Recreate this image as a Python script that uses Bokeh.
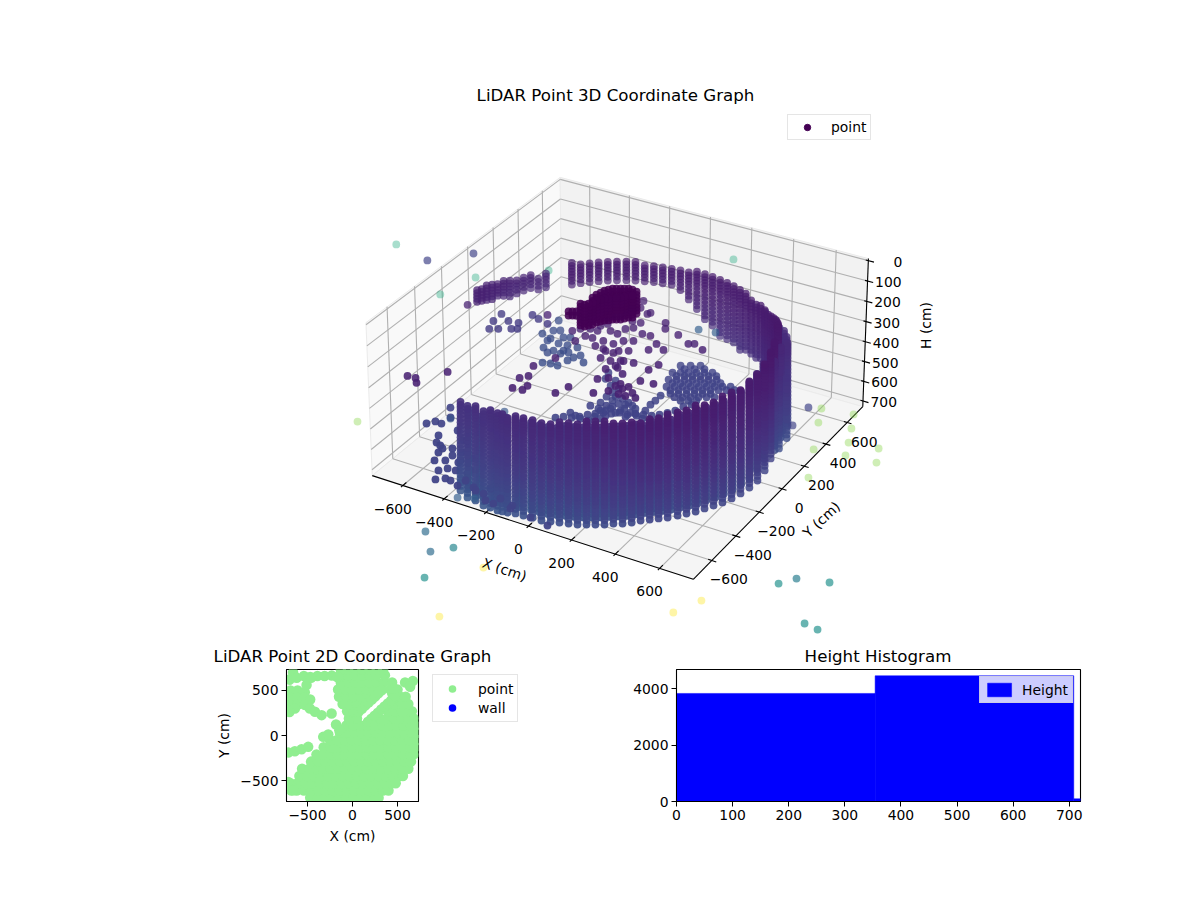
import numpy as np
from bokeh.plotting import figure
from bokeh.layouts import column, row
from bokeh.models import Legend, LegendItem, ColumnDataSource, FixedTicker, Range1d
from bokeh.palettes import Viridis256
from bokeh.transform import linear_cmap
from bokeh.core.properties import value
from bokeh.embed import file_html
from bokeh.resources import INLINE

# ------------------------------------------------ data (cm)
tick_xy = [-600, -400, -200, 0, 200, 400, 600]
tick_h = [0, 100, 200, 300, 400, 500, 600, 700]
height_tiers = [172, 186, 200, 214, 228, 242, 256, 270, 284, 298, 312, 328, 346, 364, 382, 400, 418,
                436, 454, 472, 490, 508, 526, 544, 562, 580, 598, 616, 634, 652, 670, 688, 710]

front_x = [-373, -320, -279, -230, -197, -160, -138, -115, -83, -46, -5, 39, 76, 112, 149, 185, 218, 250, 283, 311, 344,
           373, 397, 426, 454, 483, 511, 535, 560, 580, 601, 621, 638, 650, 659, 660, 646, 620, 582]
front_y = [-710, -744, -748, -767, -766, -771, -768, -764, -754, -752, -747, -749, -737, -725, -713, -701, -683, -664,
           -645, -619, -600, -574, -541, -515, -489, -464, -429, -396, -363, -323, -284, -244, -197, -143, -84, -18, 67,
           163, 261]
front_top = [277, 267, 255, 243, 238, 234, 238, 244, 241, 239, 238, 234, 229, 224, 220, 215, 214, 214, 214, 224, 224,
             224, 229, 225, 220, 214, 205, 205, 200, 205, 205, 200, 200, 201, 195, 191, 196, 200, 205]
front_bot = [710] * 39

inner_x = [-336, -267, -189, -133, -78, -24, 16, 55, 91, 126, 162, 195, 227, 258, 288, 317, 347, 373, 399, 427, 454,
           482, 507, 531, 553, 572, 593, 610, 625, 634, 639, 633, 614, 583]
inner_y = [-705, -732, -746, -744, -735, -727, -726, -721, -709, -697, -686, -671, -653, -634, -613, -591, -569,
           -540, -512, -487, -462, -433, -400, -368, -333, -294, -256, -213, -165, -110, -49, 24, 112, 206]
inner_top = [310, 300, 275, 265, 275, 270, 270, 265, 260, 255, 250, 245, 245, 245, 245, 255, 255, 255, 260, 255,
             250, 245, 235, 235, 230, 235, 235, 230, 230, 230, 225, 220, 225, 230]
inner_bot = [690] * 34

side_x = [630, 597, 558, 513, 462, 405, 345, 600, 610, 590, 570, 540, 505]
side_y = [280, 345, 405, 462, 513, 558, 597, 230, 250, 300, 350, 400, 450]
side_top = [368, 245, 264, 284, 300, 317, 307, 280, 335, 247, 280, 290, 303]
side_bot = [680, 654, 625, 596, 588, 582, 572, 710, 710, 704, 688, 674, 663]

band_x = [563, 543, 520, 497, 471, 443, 414, 384, 352, 319, 285, 250, 214, 177, 140, 102, 63, 25, -14, -52, -90,
          -128, -166, -203, -239, -275, -309, -343, -375, -406, -435, -463, -489]
band_y = [325, 358, 389, 420, 448, 475, 501, 525, 547, 566, 584, 600, 614, 626, 635, 642, 647, 649, 650, 648, 644,
          637, 628, 618, 604, 589, 572, 552, 531, 508, 483, 456, 428]
band_top = [172, 185, 195, 206, 218, 230, 243, 250, 256, 261, 258, 252, 246, 248, 249, 250, 252, 254, 255, 257, 259,
            260, 260, 260, 259, 256, 252, 250, 250, 250, 248, 244, 240]
band_bot = [412, 428, 440, 457, 472, 485, 498, 510, 520, 526, 533, 540, 544, 540, 537, 530, 505, 480, 450, 410, 375,
            358, 352, 351, 352, 352, 352, 352, 352, 351, 350, 348, 346]

rear_x = [-587, -606, -624, -639, -653, -666, -676, -685, -691, -696, -699, -700]
rear_y = [381, 350, 318, 285, 251, 216, 181, 146, 110, 73, 37, 0]
rear_top = [293, 303, 284, 284, 274, 265, 255, 245, 231, 224, 216, 207]
rear_bot = [370, 380, 355, 356, 351, 346, 341, 327, 313, 300, 288, 274]

near_tiers = [20, 35, 50, 65, 80, 95, 110, 125]
near_x = [-92, -90, -83, -77, -67, -56, -42, -27, -13, 2, 20, 43,
          -112, -93, -83, -72, -66, -55, -45, -31, -20, -6, 9, 19, 30, 44]
near_y = [-91, -62, -39, -17, -1, 14, 22, 31, 39, 48, 49, 43,
          -157, -156, -140, -126, -104, -88, -73, -64, -49, -41, -32, -17, -1, 7]
wing_tiers = [50, 70]
wing_x = [-149, -135, -120]
wing_y = [-193, -185, -177]

floor_x = [-135, -134, -132, -98, -57, -19, 15, -133, -139, 48, -97, -73, -21, -107, -63, -103, -17, -66, 27, 21, 23,
           22, -176, -206, -236, -163, -198, -200, -244, -157, -258,
           -25, 11, 47, -26, 3, 31, 60, 89, 118, -13, 16, 45, 74, 103, 132, 161, 8, 37, 66, 95, 124, 152, 181, 210, 239,
           50, 79, 108, 137, 166, 195, 114, 142, 171,
           3, 39, 75, 2, 31, 59, 88, 117, 146, 15, 44, 73, 102, 131, 160, 189, 36, 65, 94, 123, 152, 180, 209, 238, 267,
           78, 107, 136, 165, 194, 223,
           -270, -245, -212, -187, -166, -142, -117, -84, -59, -22, 3, 36, 69, 94, 115, 135, 148, 169,
           -167, -169, -136, -104, -40, -192, -151, -69, -108, -117]
floor_y = [51, 98, 146, 138, 115, 100, 92, -3, -43, 84, 27, 68, 62, 86, 93, -4, 138, 166, 145, 198, 236, 282, -46,
           -36, -26, 201, 246, 291, 284, 242, 332,
           532, 553, 574, 466, 483, 499, 516, 533, 550, 410, 426, 443, 460, 477, 493, 510, 356, 373, 390, 407, 423, 440,
           457, 474, 491, 316, 332, 349, 366, 383, 400, 289, 305, 322,
           516, 537, 558, 450, 467, 483, 500, 517, 534, 394, 410, 427, 444, 461, 477, 494, 340, 357, 374, 391, 407, 424,
           441, 458, 475, 300, 316, 333, 350, 367, 384,
           -92, -68, -58, -34, -4, 19, 43, 53, 77, 79, 103, 113, 124, 147, 177, 208, 253, 284,
           107, 161, 180, 181, 153, 65, 61, 145, 104, 61]
floor_h = 650
floor_c = 0.2

mid_x = [-127, -110, -61, 0, -165, -90, -113, -174, -164, -65, -40, -4, 29, 84, 46, 88, -81, -55, -29, 17, 53, 58,
         180, -56, -79, -254, -210, -244, -268, -208, -266, -418, -218, -54, 40, 63, 134, -56, 86, 91, 140, 206, 228,
         281, 31, 40, 239, 166, 182, 120, 104, -681, -644, -621, -552, -747, 110, 147, 161, 199, 153, 186, 230,
         -244, -198, -265, -208, -183, -127, -81, -87, -50, 37, -214, -122, -65, -18, 18, -7, 7]
mid_y = [398, 344, 316, 167, 164, 115, 36, 94, 34, 37, 78, 99, -67, -53, -121, -153, -19, -88, -26, -240, -210, -346,
         -164, -356, -426, -481, -474, -364, -397, -435, -284, 100, -183, 330, 292, 250, 235, 190, 69, 127, 100, 194,
         207, 182, -112, -61, -157, -70, -14, -226, -300, -618, -615, -647, -506, 2, -251, -257, -230, -264, -300,
         -300, -293, 72, 33, 41, 93, 135, 121, 166, 236, 240, 170, -23, -15, -29, -1, 20, -88, -154]
mid_h = 300
mid_c = 0.09

ledge_x = [-739, -755, -754, -706, -701, -659, -657, -637, -638, -600, -548]
ledge_y = [170, 233, 299, 189, 265, 216, 273, 229, 357, 342, 327]
ledge_h = 500
ledge_c = 0.17

shelf_x = [-611, -565, -562, -583, -604, -558, -519, -473, -494, -429, -386, -347, -403, -413, -466, -503, -517, -495,
           -462, -429, -551, -513, -467, -441]
shelf_y = [393, 356, 376, 437, 518, 452, 410, 363, 425, 370, 321, 278, 292, 259, 292, 298, 272, 192, 202, 203, 298,
           358, 319, 316]
shelf_h = 600
shelf_c = 0.24

corner_x = [-688, -664, -634, -597, -576, -531, -530, -512, -467, -458, -433, -433, -374, -329, -665, -625, -548, -418,
            -486, -341, -263, -203, -128, -47, 62, 155,
            -473, -396, -320, -244, -169, -401, -418, -342, -274, -198, -123, -51, -551, -495, -443, -383, -315]
corner_y = [-446, -413, -415, -504, -557, -586, -622, -686, -614, -747, -816, -714, -792, -812, -285, -354, -429, -632,
            -487, -707, -792, -813, -862, -860, -881, -901,
            -663, -711, -760, -808, -857, -788, -650, -680, -715, -763, -812, -836, -570, -565, -572, -593, -628]
corner_h = 620
corner_c = 0.2

far_x = [-1245, -1069, -930, -827, -887, -591, 33, -680, 3, 101, 168, 183, 356, 392, 1221, 1275, 1486, 1531, 1666, 1739,
         1810, 893, 907, 944, 1084, 989, 1132, 1178, 1310, 1079, 1218, 1358, 1172, 487, 259, 186, -16, 49, -189, -356]
far_y = [272, 226, 371, 209, 17, 411, 875, -1040, -1661, -1790, -1714, -1983, -1790, -2223, -1704, -1562, -1282, -1210,
         -1168, -1505, -1520, 4, -154, 24, 50, -80, -52, -156, -134, -277, -252, -236, -483, 462, 330, 315, -1358, -1330,
         -662, -824]
far_h = 300
far_c = [.62, .2, .2, .62, .62, .62, .62, .82, .35, .35, .45, .5, 1, 1, 1, 1, .5, .42, .5, .5, .5, .2, .2, .82, .82, .82,
         .82, .82, .82, .82, .82, .82, .82, .3, .3, .3, .3, .3, .27, .25]

plan_rows = {
    -690: [-470, -390, -310, -230, -150, -70, 10, 90, 170, 250, 290],
    -610: [-680, -620, -540, -460, -380, -300, -220, -140, -60, 20, 100, 180, 260, 340, 400],
    -530: [-690, -610, -600, -520, -440, -360, -280, -200, -120, -40, 40, 120, 200, 280, 360, 430, 480],
    -450: [-590, -510, -430, -350, -270, -190, -110, -30, 50, 130, 210, 290, 370, 450, 520, 560],
    -370: [-560, -480, -400, -320, -240, -160, -80, 0, 80, 160, 240, 320, 400, 480, 560, 620],
    -290: [-460, -380, -300, -220, -140, -60, 20, 100, 180, 260, 340, 420, 500, 580, 650],
    -210: [-400, -320, -240, -160, -80, 0, 80, 160, 240, 320, 400, 480, 560, 640, 680],
    -130: [-320, -240, -160, -80, 0, 80, 160, 240, 320, 400, 480, 560, 640, 700],
    -50: [-250, -170, -90, -10, 70, 150, 230, 310, 390, 470, 550, 630, 720],
    30: [-140, -60, 20, 100, 180, 260, 340, 420, 500, 580, 660, 720],
    110: [-70, 10, 90, 170, 250, 330, 410, 490, 570, 650, 700],
    190: [-40, 20, 50, 300, 380, 460, 540, 620, 680],
    270: [-60, 10, 400, 470, 550, 630, 660],
    350: [-110, -30, 50, 110, 470, 550, 620],
    430: [-150, -70, 10, 90, 170, 530, 590],
    510: [-160, -80, 0, 80, 160, 240, 420, 500],
    590: [-130, -50, 30, 110, 190, 270, 350, 440],
    670: [-130, -50, 30, 110, 190, 270, 360],
    730: [-130, -50, 30, 110, 190, 270, 340],
}
plan_extra_x = [68, 105, 141, 178, 215, 251, 288, 325, 172, 209, 245, 282, 319, 355, 392, 429, 440, 470, 460,
                -690, -610, -530, -690, -610, -530, -470, -690, -610, -530, -700, -660, -620, -540, -470, -390, -310,
                -230, -170, -473, -417, -343, -232, -183, -146, -325, -269, -714, -640, -566, -492, -677, -714, -659,
                584, 670, 640, -640, -510, -460, -700]
plan_extra_y = [264, 298, 332, 366, 400, 434, 468, 502, 152, 186, 220, 254, 288, 322, 356, 390, 470, 440, 520,
                500, 500, 480, 420, 420, 420, 400, 340, 340, 340, 620, 700, 640, 660, 650, 660, 660, 665, 650, 300, 263,
                226, 245, 122, 59, -15, 11, -189, -174, -152, -126, -571, -516, -608, 590, 605, 542, 300, 560, 640, 260]

hist_edges = [0, 354, 708, 1062]
hist_counts = [3834, 4460, 95]

FONT = "DejaVu Sans"
BASE = "13.9px"

# ------------------------------------------------ 3D box placed on the page from its visible corners
X_LO, X_HI = -750.0, 750.0
Z_TOP, Z_BOT = -10.0, 729.0
cal = np.array([[X_LO, X_LO, Z_BOT, 372, 476], [X_HI, X_LO, Z_BOT, 693, 578], [X_HI, X_HI, Z_BOT, 862, 408],
                [X_LO, X_HI, Z_TOP, 560, 178], [X_LO, X_LO, Z_TOP, 365, 322], [X_HI, X_HI, Z_TOP, 868, 257],
                [X_LO, X_HI, Z_BOT, 561, 318]])
rows_ = []
for X, Y, Z, s, t in cal:
    X, Y, Z, s, t = X / 1000, Y / 1000, Z / 1000, s / 1000, t / 1000
    rows_.append([X, Y, Z, 1, 0, 0, 0, 0, -s * X, -s * Y, -s * Z, -s])
    rows_.append([0, 0, 0, 0, X, Y, Z, 1, -t * X, -t * Y, -t * Z, -t])
H = np.linalg.svd(np.array(rows_))[2][-1].reshape(3, 4)


def proj(x, y, h):
    v = np.stack([np.asarray(x, float) / 1000, np.asarray(y, float) / 1000, np.asarray(h, float) / 1000,
                  np.ones(np.shape(x))], axis=0)
    q = H @ v
    return q[0] / q[2] * 1000, q[1] / q[2] * 1000


def place(x, y, h):
    x, y, h = np.asarray(x, float), np.asarray(y, float), np.asarray(h, float)
    return 622 + 0.2077 * x + 0.119 * y, 289 + 0.0627 * x - 0.108 * y + 0.208 * h


# ------------------------------------------------ assemble points
px, py, ph, pt = [], [], [], []
for xs, ys, tops, bots, tint in [(front_x, front_y, front_top, front_bot, 0.0), (inner_x, inner_y, inner_top, inner_bot, 0.05),
                                 (side_x, side_y, side_top, side_bot, 0.03),
                                 (band_x, band_y, band_top, band_bot, 0.0), (rear_x, rear_y, rear_top, rear_bot, 0.0)]:
    for a, b, t, l in zip(xs, ys, tops, bots):
        for h in height_tiers:
            if t <= h <= l:
                px.append(a); py.append(b); ph.append(h); pt.append(tint)
for xs, ys, tiers in [(near_x, near_y, near_tiers), (wing_x, wing_y, wing_tiers)]:
    for a, b in zip(xs, ys):
        for h in tiers:
            px.append(a); py.append(b); ph.append(h); pt.append(0.0)
for xs, ys, h, c in [(floor_x, floor_y, floor_h, floor_c), (mid_x, mid_y, mid_h, mid_c), (ledge_x, ledge_y, ledge_h, ledge_c),
                     (shelf_x, shelf_y, shelf_h, shelf_c), (corner_x, corner_y, corner_h, corner_c)]:
    px += xs; py += ys; ph += [h] * len(xs); pt += [c] * len(xs)
px, py, ph, pt = np.array(px, float), np.array(py, float), np.array(ph, float), np.array(pt, float)
pc = np.clip((px ** 2 + py ** 2 + ph ** 2 - 2.2e5) / 3.5e6, 0, 1)
grouped = (pt >= 0.09)
pc = np.where(grouped, pt, pc + pt)

allx = np.r_[px, far_x]
ally = np.r_[py, far_y]
allh = np.r_[ph, np.full(len(far_x), far_h)]
allc = np.r_[pc, far_c]
sx, sy = place(allx, ally, allh)
dep = 0.433 * allx - 0.75 * ally + 0.5 * (729 - allh)      # toward the viewer is larger
pa = np.interp(dep[:len(px)], [-600, 700], [0.62, 0.95])
pa = np.where(pt >= 0.17, np.minimum(pa + 0.12, 0.95), pa)
alla = np.r_[pa, [0.4 if c > 0.6 else 0.68 for c in far_c]]
order = np.argsort(dep)
src = ColumnDataSource(dict(sx=sx[order], sy=sy[order], c=allc[order], a=alla[order]))

# ------------------------------------------------ 3D figure (page-pixel scales)
p3 = figure(width=1200, height=668, x_range=Range1d(0, 1200), y_range=Range1d(668, 0),
            toolbar_location=None, output_backend="svg", min_border=0,
            x_axis_type=None, y_axis_type=None, outline_line_color=None)
p3.grid.visible = False


def face(corners, color):
    c = np.array(corners, float)
    a, b = proj(c[:, 0], c[:, 1], c[:, 2])
    p3.patch(list(a), list(b), fill_color=color, line_color="#ebebeb", line_width=1)


face([(X_LO, X_LO, Z_BOT), (X_LO, X_HI, Z_BOT), (X_LO, X_HI, Z_TOP), (X_LO, X_LO, Z_TOP)], "#f9f9f9")
face([(X_LO, X_HI, Z_BOT), (X_HI, X_HI, Z_BOT), (X_HI, X_HI, Z_TOP), (X_LO, X_HI, Z_TOP)], "#f2f2f2")
face([(X_LO, X_LO, Z_BOT), (X_HI, X_LO, Z_BOT), (X_HI, X_HI, Z_BOT), (X_LO, X_HI, Z_BOT)], "#f5f5f5")


def seg_lists(segs):
    xs, ys = [], []
    for s0, s1 in segs:
        a, b = proj([s0[0], s1[0]], [s0[1], s1[1]], [s0[2], s1[2]])
        xs.append(list(a)); ys.append(list(b))
    return xs, ys


grid = []
for t in tick_xy:
    grid.append(((t, X_LO, Z_BOT), (t, X_HI, Z_BOT)))
    grid.append(((t, X_HI, Z_BOT), (t, X_HI, Z_TOP)))
    grid.append(((X_LO, t, Z_BOT), (X_HI, t, Z_BOT)))
    grid.append(((X_LO, t, Z_BOT), (X_LO, t, Z_TOP)))
for h in tick_h:
    grid.append(((X_LO, X_LO, h), (X_LO, X_HI, h)))
    grid.append(((X_LO, X_HI, h), (X_HI, X_HI, h)))
gx, gy = seg_lists(grid)
p3.multi_line(gx, gy, line_color="#b0b0b0", line_width=1.1)

ink = [((X_LO, X_LO, Z_BOT), (X_HI, X_LO, Z_BOT)), ((X_HI, X_LO, Z_BOT), (X_HI, X_HI, Z_BOT)),
       ((X_HI, X_HI, Z_BOT), (X_HI, X_HI, Z_TOP))]
for t in tick_xy:
    ink.append(((t, X_LO - 14, Z_BOT), (t, X_LO + 26, Z_BOT)))
    ink.append(((X_HI - 16, t, Z_BOT), (X_HI + 20, t, Z_BOT)))
for h in tick_h:
    ink.append(((X_HI - 12, X_HI, h), (X_HI + 26, X_HI, h)))
kx, ky = seg_lists(ink)
p3.multi_line(kx, ky, line_color="black", line_width=1.1)

p3.scatter("sx", "sy", source=src, size=7.8, line_width=0,
           fill_color=linear_cmap("c", Viridis256, 0, 1), fill_alpha="a", line_alpha=0)


def words(x, y, text, align="center", angle=0.0, size=BASE):
    p3.text(x, y, text=text, text_font=value(FONT), text_font_size=value(size), text_color="black",
            text_align=align, text_baseline="middle", angle=angle, angle_units="deg")


def minus(v):
    return str(v).replace("-", "\u2212")


a, b = proj(tick_xy, [X_LO] * 7, [Z_BOT] * 7)
words(list(a - 10), list(b + 23), [minus(v) for v in tick_xy])
a, b = proj([X_HI] * 7, tick_xy, [Z_BOT] * 7)
words(list(a + 17), list(b + 19), [minus(v) for v in tick_xy])
a, b = proj([X_HI] * 8, [X_HI] * 8, tick_h)
words(list(a + 34), list(b + 1), [str(v) for v in tick_h], align="right")
words([504], [569], ["X (cm)"], angle=-18.6)
words([821], [519], ["Y (cm)"], angle=43)
words([925], [325], ["H (cm)"], angle=90)
words([615], [95], ["LiDAR Point 3D Coordinate Graph"], size="16.67px")
words([352], [656], ["LiDAR Point 2D Coordinate Graph"], size="16.67px")
words([877.5], [656], ["Height Histogram"], size="16.67px")

NAN = float("nan")
dummy3 = p3.scatter(x=[NAN], y=[NAN], size=7, fill_color="#440154", line_color="#440154")
leg3 = Legend(items=[LegendItem(label="point", renderers=[dummy3])], location=(787, 528),
              label_text_font=FONT, label_text_font_size=BASE, label_text_color="black", border_line_color="#cccccc",
              background_fill_alpha=0.8, margin=0, padding=4, spacing=0, glyph_width=30, glyph_height=16,
              label_standoff=9, label_height=16)
p3.add_layout(leg3)


def style_2d(p, xticks, yticks):
    p.grid.visible = False
    p.outline_line_color = "black"
    p.outline_line_width = 1.1
    for ax, ticks in ((p.xaxis, xticks), (p.yaxis, yticks)):
        ax.ticker = FixedTicker(ticks=ticks)
        ax.major_label_overrides = {t: minus(t) for t in ticks}
        ax.minor_tick_line_color = None
        ax.major_tick_in = 0
        ax.major_tick_out = 5
        ax.major_tick_line_color = "black"
        ax.axis_line_color = "black"
        ax.major_label_text_font = FONT
        ax.major_label_text_font_size = BASE
        ax.major_label_text_color = "black"
        ax.axis_label_text_font = FONT
        ax.axis_label_text_font_size = BASE
        ax.axis_label_text_font_style = "normal"
        ax.axis_label_text_color = "black"
        ax.major_label_standoff = 3


# ------------------------------------------------ 2D plan
p2 = figure(width=432, height=232, x_range=Range1d(-733, 733), y_range=Range1d(-733, 733),
            toolbar_location=None, output_backend="svg",
            min_border_left=286, min_border_right=14, min_border_top=1, min_border_bottom=99)
style_2d(p2, [-500, 0, 500], [-500, 0, 500])
p2.xaxis.axis_label = "X (cm)"
p2.yaxis.axis_label = "Y (cm)"
plan_x = [v for r in plan_rows.values() for v in r] + plan_extra_x
plan_y = [k for k, r in plan_rows.items() for _ in r] + plan_extra_y
p2.scatter(plan_x, plan_y, size=10.5, fill_color="#90ee90", line_color="#90ee90", line_width=0)

key = figure(width=168, height=232, x_range=Range1d(0, 1), y_range=Range1d(0, 1),
             toolbar_location=None, output_backend="svg", min_border=0,
             x_axis_type=None, y_axis_type=None, outline_line_color=None)
key.grid.visible = False
r_pt = key.scatter(x=[NAN], y=[NAN], size=10.5, fill_color="#90ee90", line_color="#90ee90", line_width=0)
r_wall = key.scatter(x=[NAN], y=[NAN], size=10.5, fill_color="blue", line_color="blue", line_width=0)
leg2 = Legend(items=[LegendItem(label="point", renderers=[r_pt]), LegendItem(label="wall", renderers=[r_wall])],
              location=(0, 79), label_text_font=FONT, label_text_font_size=BASE, label_text_color="black",
              border_line_color="#cccccc", background_fill_alpha=0.8, margin=0, padding=4, spacing=0,
              glyph_width=30, glyph_height=19, label_standoff=11, label_height=19)
key.add_layout(leg2)

# ------------------------------------------------ histogram
ph_ = figure(width=600, height=232, x_range=Range1d(0, 720), y_range=Range1d(0, 4683),
             toolbar_location=None, output_backend="svg",
             min_border_left=76, min_border_right=120, min_border_top=1, min_border_bottom=99)
style_2d(ph_, [0, 100, 200, 300, 400, 500, 600, 700], [0, 2000, 4000])
bars = ph_.quad(left=hist_edges[:-1], right=hist_edges[1:], bottom=0, top=hist_counts,
                fill_color="blue", line_color="blue", line_width=0.5)
leg_h = Legend(items=[LegendItem(label="Height", renderers=[bars])], location="top_right",
               label_text_font=FONT, label_text_font_size=BASE, label_text_color="black", border_line_color="#cccccc",
               background_fill_alpha=0.8, margin=7, padding=4, spacing=0, glyph_width=30, glyph_height=17,
               label_standoff=8, label_height=17)
ph_.add_layout(leg_h)

page = column(p3, row(p2, key, ph_, spacing=0), spacing=0)
open("out.html", "w").write(file_html(page, INLINE))
